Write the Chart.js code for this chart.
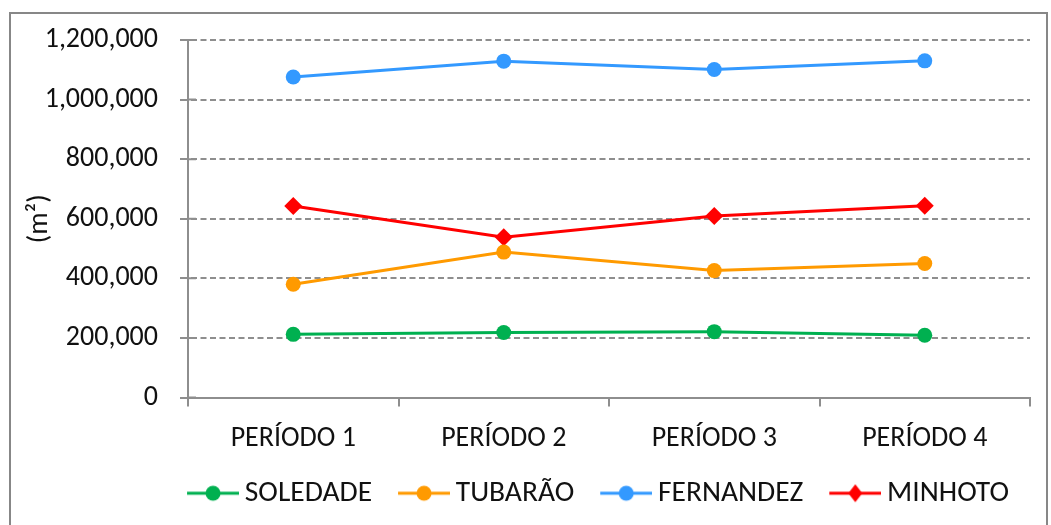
<!DOCTYPE html>
<html>
<head>
<meta charset="utf-8">
<script src="https://cdn.jsdelivr.net/npm/chart.js@4.4.1/dist/chart.umd.min.js"></script>
<style>
  html, body { margin: 0; padding: 0; background: #fff; }
  #wrap { position: absolute; left: 0; top: 0; width: 1051px; height: 525px; }
</style>
</head>
<body>
<div id="wrap"><canvas id="areaChart"></canvas></div>
<script>
const periods = ['PERÍODO 1', 'PERÍODO 2', 'PERÍODO 3', 'PERÍODO 4'];
const soledade = [212000, 218000, 221000, 209000];
const tubarao = [380000, 488000, 426000, 450000];
const fernandez = [1076000, 1129000, 1101000, 1130000];
const minhoto = [643000, 538000, 609000, 644000];

const FONT = "Carlito, 'Open Sans', sans-serif";
const INK = '#111';
const AXIS = '#8e8e8e';

// line + marker swatch for the legend (transparent lead-in on the left)
function swatch(color, style) {
    const c = document.createElement('canvas');
    c.width = 77; c.height = 20;
    const g = c.getContext('2d');
    g.strokeStyle = color;
    g.lineWidth = 3;
    g.beginPath(); g.moveTo(25, 10); g.lineTo(77, 10); g.stroke();
    g.fillStyle = color;
    g.beginPath();
    if (style === 'rectRot') {
        g.moveTo(51, 1); g.lineTo(58, 10); g.lineTo(51, 19); g.lineTo(44, 10);
    } else {
        g.arc(51, 10, 7.5, 0, Math.PI * 2);
    }
    g.fill();
    return c;
}

function series(label, data, color, style) {
    return {
        label: label,
        data: data,
        borderColor: color,
        backgroundColor: color,
        borderWidth: 3,
        pointStyle: style,
        pointRadius: style === 'rectRot' ? 9 : 7.5,
        pointHoverRadius: 8,
        pointBorderWidth: 0,
        tension: 0,
        legendSwatch: swatch(color, style)
    };
}

// outer frame, legend nudge, and y tick marks crossing into the plot
const frame = {
    id: 'frame',
    afterLayout(chart) {
        const lg = chart.legend;
        const dx = 75;
        lg.left += dx;
        lg.right += dx;
    },
    beforeDraw(chart) {
        const ctx = chart.ctx;
        ctx.save();
        ctx.strokeStyle = '#878787';
        ctx.lineWidth = 2;
        ctx.strokeRect(10, 13, 1037, 530);
        ctx.restore();
    },
    beforeDatasetsDraw(chart) {
        const ctx = chart.ctx;
        const y = chart.scales.y;
        const x0 = chart.chartArea.left;
        ctx.save();
        ctx.strokeStyle = AXIS;
        ctx.lineWidth = 2;
        ctx.beginPath();
        y.ticks.forEach(t => {
            const py = y.getPixelForValue(t.value);
            ctx.moveTo(x0, py);
            ctx.lineTo(x0 + 8, py);
        });
        ctx.stroke();
        ctx.restore();
    }
};

new Chart(document.getElementById('areaChart').getContext('2d'), {
    type: 'line',
    data: {
        labels: periods,
        datasets: [
            series('SOLEDADE', soledade, '#00B050', 'circle'),
            series('TUBARÃO', tubarao, '#FF9A00', 'circle'),
            series('FERNANDEZ', fernandez, '#3399FF', 'circle'),
            series('MINHOTO', minhoto, '#FF0000', 'rectRot')
        ]
    },
    options: {
        responsive: true,
        maintainAspectRatio: false,
        animation: false,
        layout: { padding: { top: 40, right: 21, bottom: 7, left: 0 } },
        scales: {
            x: {
                offset: true,
                grid: {
                    offset: true,
                    drawOnChartArea: false,
                    color: AXIS,
                    lineWidth: 2,
                    tickLength: 9
                },
                border: { color: AXIS, width: 2 },
                ticks: {
                    color: INK,
                    font: { family: FONT, size: 28 },
                    padding: 16
                },
                afterFit(scale) { scale.height = 71; }
            },
            y: {
                min: 0,
                max: 1200000,
                ticks: {
                    stepSize: 200000,
                    color: INK,
                    font: { family: FONT, size: 28 },
                    padding: 22,
                    callback: v => v.toLocaleString('en-US')
                },
                grid: {
                    color: AXIS,
                    lineWidth: 2,
                    tickBorderDash: [],
                    tickLength: 8
                },
                border: { color: AXIS, width: 2, dash: [6, 3.5], dashOffset: 7.5 },
                title: {
                    display: true,
                    text: '(m²)',
                    color: INK,
                    font: { family: FONT, size: 28 },
                    padding: { top: 23, bottom: 0 }
                },
                afterFit(scale) { scale.width = 188; }
            }
        },
        plugins: {
            legend: {
                position: 'bottom',
                labels: {
                    usePointStyle: true,
                    pointStyleWidth: 59,
                    color: INK,
                    font: { family: FONT, size: 29.5 },
                    padding: 10,
                    generateLabels(chart) {
                        return chart.data.datasets.map((ds, i) => ({
                            text: ds.label,
                            pointStyle: ds.legendSwatch,
                            fillStyle: ds.borderColor,
                            strokeStyle: ds.borderColor,
                            lineWidth: 0,
                            fontColor: INK,
                            hidden: false,
                            datasetIndex: i
                        }));
                    }
                }
            },
            tooltip: { enabled: false }
        }
    },
    plugins: [frame]
});
</script>
</body>
</html>
